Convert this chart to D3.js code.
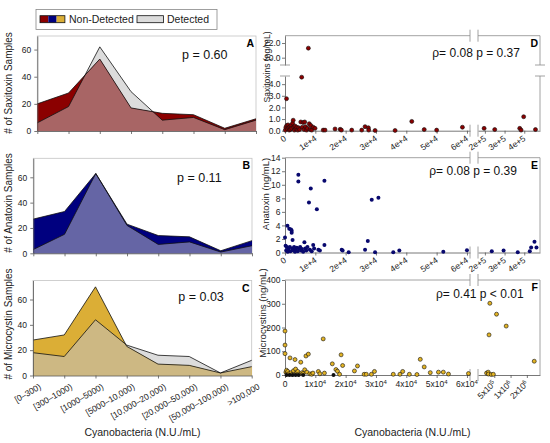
<!DOCTYPE html>
<html>
<head>
<meta charset="utf-8">
<script src="https://cdn.jsdelivr.net/npm/d3@7"></script>
<style>
  body { margin: 0; background: #fff; }
  svg { font-family: "Liberation Sans", Arial, sans-serif; }
</style>
</head>
<body>
<svg id="chart" width="550" height="443"></svg>
<script>
// left column: samples per cyanobacteria class
const categories = ["[0–300)", "[300–1000)", "[1000–5000)", "[5000–10,000)",
  "[10,000–20,000)", "[20,000–50,000)", "[50,000–100,000)", ">100,000"];
const saxNonDetected = [20, 28, 53, 17, 13, 12, 2, 9];
const saxDetected    = [6, 18, 62, 29, 8, 10, 1, 8];
const anaNonDetected = [27, 33, 63, 23, 14, 13, 2, 10];
const anaDetected    = [3, 15, 63, 22, 7, 9, 1, 6];
const micNonDetected = [28, 32, 70, 23, 9, 8, 2, 7];
const micDetected    = [18, 15, 44, 24, 16, 15, 2, 12];
const sampleTicks = [0, 20, 40, 60];

// right column: [cyanobacteria N.U./mL, toxin ng/mL]
const saxitoxinPoints = [
  [100, 0.05], [300, 0.3], [500, 2.75], [600, 0.45], [800, 0.15], [1000, 0.5], [1200, 0.25],
  [1400, 0.05], [1600, 0.35], [1800, 0.1], [2000, 0.45], [2200, 0.2], [2500, 0.65], [2700, 0.9],
  [2900, 0.3], [3100, 0.05], [3300, 0.4], [3600, 0.15], [3900, 0.3], [4200, 0.05], [4500, 0.25],
  [4800, 0.1], [5200, 0.75], [5500, 4.6], [5700, 0.3], [6000, 0.7], [6300, 0.1], [6500, 0.75],
  [6800, 0.35], [7100, 0.05], [7400, 0.2], [7700, 21.3], [8000, 0.6], [8300, 0.1], [8500, 0.45],
  [8800, 0.05], [9300, 0.3], [9900, 0.2], [12600, 0.05], [13200, 0.05], [16500, 0.15],
  [18200, 0.12], [18600, 0.05], [22000, 0.05], [25300, 0.05], [26400, 0.35], [27500, 0.25],
  [27600, 0.05], [29700, 0.02], [36300, 0.02], [41800, 0.8], [45900, 0.1], [50000, 0.05],
  [58500, 0.3], [196000, 0.2], [250000, 0.1], [377000, 0.2], [384000, 0.05], [397000, 1.2],
  [457000, 0.1]
];
const anatoxinPoints = [
  [0, 2.2], [200, 1.0], [400, 0.3], [600, 0.8], [800, 3.95], [900, 0.1], [1100, 0.5], [1400, 3.5],
  [1600, 0.8], [1800, 0.2], [2000, 3.4], [2200, 3.2], [2200, 2.9], [2400, 0.6], [2500, 1.85],
  [2800, 0.3], [3000, 0.8], [3300, 0.1], [3600, 0.5], [3900, 0.7], [4200, 0.2], [4400, 11.5],
  [4400, 10.5], [4700, 0.6], [5000, 0.8], [5300, 0.3], [5600, 0.5], [6000, 0.1], [6400, 1.5],
  [6700, 0.6], [7000, 0.3], [7400, 0.8], [7900, 7.4], [8200, 0.4], [8500, 9.45], [8800, 0.2],
  [9300, 1.1], [9600, 0.6], [10500, 6.4], [11000, 0.4], [11500, 0.3], [13000, 10.6], [13000, 1.1],
  [18700, 0.4], [19000, 0.3], [21000, 0.05], [26400, 0.4], [27300, 1.7], [28600, 7.8],
  [29700, 0.05], [30800, 8.1], [35700, 0.05], [37700, 0.3], [52200, 0.1], [60000, 0.35],
  [235000, 0.2], [295000, 0.3], [367000, 0.05], [428000, 0.2], [435000, 0.75], [452000, 1.6],
  [462000, 0.75]
];
const microcystinPoints = [
  [0, 185], [0, 126], [0, 90], [300, 12], [500, 20], [700, 8], [900, 15], [1200, 5], [1650, 72],
  [2000, 10], [2400, 3], [2800, 18], [3300, 65], [3500, 25], [3800, 8], [4200, 15], [4600, 4],
  [5200, 54], [5600, 10], [6000, 6], [6500, 22], [6900, 80], [7200, 12], [7700, 88], [8200, 5],
  [8800, 3], [9200, 8], [11000, 15], [11500, 5], [12600, 152], [13000, 8], [15600, 47],
  [16800, 23], [17300, 16], [18000, 3], [18500, 85], [19000, 40], [22900, 17], [23900, 38],
  [26100, 3], [26800, 3], [28500, 3], [29500, 15], [35700, 3], [37900, 3], [38800, 15],
  [41000, 3], [43500, 2], [44600, 66], [45900, 34], [47900, 10], [50600, 12], [52200, 12],
  [53900, 4], [60500, 6], [360000, 8], [386000, 12], [390000, 4], [400000, 169], [414000, 302],
  [440000, 2], [480000, 3], [550000, 256], [830000, 206], [2740000, 58]
];
const microcystinZeros = [[500, 0], [1500, 0], [2500, 0], [3500, 0], [4500, 0], [6000, 0], [16000, 0]];

const xTicksLeft = [0, 1e4, 2e4, 3e4, 4e4, 5e4, 6e4];
const xTicksRightLinear = [2e5, 3e5, 4e5];
const xTicksRightLog = [5e5, 1e6, 2e6];
const saxTicksLow = [0, 1, 2, 3, 4];
const saxTicksHigh = [20, 22];
const anaTicks = [0, 2, 4, 6, 8, 10, 12, 14];
const micTicks = [0, 100, 200, 300, 400];

const svg = d3.select("#chart");
const gray = "#dcdcdc";
const axisColor = "#555";

function styleAxis(g) {
  g.selectAll("path, line").attr("stroke", axisColor).attr("stroke-width", 0.8);
  g.selectAll("text").attr("fill", "#222").style("font-size", "8.5px");
}

function drawAreaPanel(cfg) {
  const w = 218.7, h = 95;
  const x = d3.scalePoint().domain(categories).range([cfg.left, cfg.left + w]);
  const y = d3.scaleLinear().domain([0, cfg.yMax]).range([cfg.top + h, cfg.top]);
  const g = svg.append("g");

  g.append("rect")
    .attr("x", cfg.left).attr("y", cfg.top).attr("width", w).attr("height", h)
    .attr("fill", "none").attr("stroke", "#c4c4c4").attr("stroke-width", 0.8);

  const area = (vals) => d3.area()
    .x((d, i) => x(categories[i]))
    .y0(y(0))
    .y1((d) => y(d))(vals);
  const line = (vals) => d3.line()
    .x((d, i) => x(categories[i]))
    .y((d) => y(d))(vals);

  g.append("clipPath").attr("id", cfg.id + "-clip")
    .append("path").attr("d", area(cfg.nonDetected));

  g.append("path").attr("d", area(cfg.detected)).attr("fill", gray);
  g.append("path").attr("d", area(cfg.nonDetected)).attr("fill", cfg.color);
  g.append("path").attr("d", area(cfg.detected)).attr("fill", cfg.overlap)
    .attr("clip-path", `url(#${cfg.id}-clip)`);

  g.append("path").attr("d", line(cfg.nonDetected))
    .attr("fill", "none").attr("stroke", "#111").attr("stroke-width", 0.8);
  g.append("path").attr("d", line(cfg.detected))
    .attr("fill", "none").attr("stroke", "#111").attr("stroke-width", 0.8);

  g.append("g")
    .attr("transform", `translate(${cfg.left},0)`)
    .call(d3.axisLeft(y).tickValues(sampleTicks).tickSize(3).tickSizeOuter(0))
    .call(styleAxis);

  const xAxis = g.append("g")
    .attr("transform", `translate(0,${cfg.top + h})`)
    .call(d3.axisBottom(x).tickSize(3).tickSizeOuter(0).tickFormat(cfg.showLabels ? null : ""))
    .call(styleAxis);
  if (cfg.showLabels) {
    xAxis.selectAll("text")
      .attr("text-anchor", "end")
      .attr("transform", "translate(3,4) rotate(-30)")
      .attr("dy", "0.5em");
  }

  g.append("text")
    .attr("transform", `translate(11.5,${cfg.titleY}) rotate(-90)`)
    .attr("text-anchor", "middle").style("font-size", "10px").attr("fill", "#222")
    .text(cfg.title);
  g.append("text").attr("x", cfg.pX).attr("y", cfg.pY)
    .style("font-size", "12.5px").attr("fill", "#111").text(cfg.pText);
  g.append("text").attr("x", cfg.left + w - 2).attr("y", cfg.top + 11)
    .attr("text-anchor", "end").style("font-size", "10.5px").style("font-weight", "bold")
    .text(cfg.letter);
}

function sciLabel(sel, v, style) {
  if (v === 0) { sel.text("0"); return; }
  const e = Math.floor(Math.log10(v));
  const m = Math.round(v / 10 ** e);
  if (style === "e") {
    sel.text(`${m}e+${e}`);
  } else {
    sel.append("tspan").text(`${m}x10`);
    sel.append("tspan").attr("dy", "-0.45em").style("font-size", "6px").text(e);
  }
}

function drawScatterPanel(cfg) {
  const left = 285, gapL = 470, gapR = 478, right = 540;
  const top = cfg.ySegs[cfg.ySegs.length - 1].range[1];
  const bottom = cfg.ySegs[0].range[0];
  const xl = d3.scaleLinear().domain([0, 6.1e4]).range([left, gapL]);
  const xr = cfg.logRight
    ? d3.scaleLog().domain([2.5e5, 3.5e6]).range([gapR, right])
    : d3.scaleLinear().domain([1.65e5, 4.8e5]).range([gapR, right]);
  const px = (v) => (v <= 6.1e4 ? xl(v) : xr(v));
  const yScales = cfg.ySegs.map((s) => d3.scaleLinear().domain(s.domain).range(s.range));
  const py = (v) => {
    const i = cfg.ySegs.findIndex((s) => v <= s.domain[1]);
    return yScales[i < 0 ? yScales.length - 1 : i](v);
  };
  const g = svg.append("g");
  const seg = (x1, y1, x2, y2) => g.append("line")
    .attr("x1", x1).attr("y1", y1).attr("x2", x2).attr("y2", y2)
    .attr("stroke", "#8a8a8a").attr("stroke-width", 0.8);

  // top border and right border, broken where the axes break
  seg(left, top, gapL, top);
  seg(gapR, top, right, top);
  cfg.ySegs.forEach((s) => seg(right, s.range[0], right, s.range[1]));

  // y axes
  cfg.ySegs.forEach((s, i) => {
    g.append("g").attr("transform", `translate(${left},0)`)
      .call(d3.axisLeft(yScales[i]).tickValues(s.ticks).tickSize(3).tickPadding(1.5).tickSizeOuter(0))
      .call(styleAxis);
  });

  // x axes
  [[xl, xTicksLeft], [xr, cfg.logRight ? xTicksRightLog : xTicksRightLinear]].forEach(([sc, ticks], k) => {
    g.append("g").attr("transform", `translate(0,${bottom})`)
      .call(d3.axisBottom(sc).tickValues(ticks).tickSize(3).tickSizeOuter(0).tickFormat(""))
      .call(styleAxis);
    ticks.forEach((t) => {
      const txt = g.append("text").attr("fill", "#222").style("font-size", "8.5px");
      if (cfg.logRight && k === 0) {
        txt.attr("x", sc(t)).attr("y", bottom + 12).attr("text-anchor", "middle");
      } else {
        const ang = cfg.logRight ? -45 : -35;
        txt.attr("text-anchor", "end")
          .attr("transform", `translate(${sc(t) + 2},${bottom + 9}) rotate(${ang})`);
      }
      sciLabel(txt, t, cfg.logRight ? "x" : "e");
    });
  });

  // break marks
  [gapL, gapR].forEach((xv) => {
    seg(xv, top - 6, xv, top + 6);
    seg(xv, bottom - 6, xv, bottom + 6);
  });
  for (let i = 1; i < cfg.ySegs.length; i++) {
    [cfg.ySegs[i - 1].range[1], cfg.ySegs[i].range[0]].forEach((yv) => {
      seg(left - 5, yv, left + 5, yv);
      seg(right - 5, yv, right + 5, yv);
    });
  }

  g.append("g").selectAll("circle")
    .data(cfg.points)
    .join("circle")
    .attr("cx", (d) => px(d[0]))
    .attr("cy", (d) => py(d[1]))
    .attr("r", 2)
    .attr("fill", cfg.fill)
    .attr("stroke", cfg.stroke || "none")
    .attr("stroke-width", 0.6);
  if (cfg.zeros) {
    g.append("g").selectAll("circle")
      .data(cfg.zeros)
      .join("circle")
      .attr("cx", (d) => px(d[0]))
      .attr("cy", (d) => py(d[1]))
      .attr("r", 2)
      .attr("fill", "#111");
  }

  g.append("text")
    .attr("transform", `translate(${cfg.titleX},${cfg.titleY}) rotate(-90)`)
    .attr("text-anchor", "middle").style("font-size", cfg.titleSize).attr("fill", "#222")
    .text(cfg.title);
  g.append("text").attr("x", cfg.rhoX).attr("y", cfg.rhoY)
    .style("font-size", "12px").attr("fill", "#111").text(cfg.rhoText);
  g.append("text").attr("x", right - 2).attr("y", top + 11)
    .attr("text-anchor", "end").style("font-size", "10.5px").style("font-weight", "bold")
    .text(cfg.letter);
}

drawAreaPanel({
  id: "sax", nonDetected: saxNonDetected, detected: saxDetected, color: "#8b0000",
  overlap: "#a86565", yMax: 70, left: 37.3, top: 36, showLabels: false,
  title: "# of Saxitoxin Samples", titleY: 83, pText: "p = 0.60", pX: 182, pY: 58.5, letter: "A"
});
drawAreaPanel({
  id: "ana", nonDetected: anaNonDetected, detected: anaDetected, color: "#00007f",
  overlap: "#6565a5", yMax: 75, left: 33.3, top: 158.3, showLabels: false,
  title: "# of Anatoxin Samples", titleY: 203, pText: "p = 0.11", pX: 177, pY: 181.7, letter: "B"
});
drawAreaPanel({
  id: "mic", nonDetected: micNonDetected, detected: micDetected, color: "#dbae36",
  overlap: "#cdb883", yMax: 75, left: 33, top: 280.5, showLabels: true,
  title: "# of Microcystin Samples", titleY: 324, pText: "p = 0.03", pX: 178.3, pY: 300.7, letter: "C"
});

drawScatterPanel({
  points: saxitoxinPoints, fill: "#8b0000", stroke: "#111",
  ySegs: [
    { domain: [0, 4.7], range: [130.7, 76], ticks: saxTicksLow },
    { domain: [19, 23], range: [65, 35.7], ticks: saxTicksHigh }
  ],
  title: "Saxitoxins (ng/mL)", titleX: 269.5, titleY: 67, titleSize: "8.6px",
  rhoText: "ρ= 0.08 p = 0.37", rhoX: 432.3, rhoY: 57.3, letter: "D"
});
drawScatterPanel({
  points: anatoxinPoints, fill: "#08086e",
  ySegs: [{ domain: [0, 14], range: [252.5, 157.7], ticks: anaTicks }],
  title: "Anatoxin (ng/mL)", titleX: 268.5, titleY: 194, titleSize: "9.5px",
  rhoText: "ρ= 0.08 p = 0.39", rhoX: 429.3, rhoY: 175, letter: "E"
});
drawScatterPanel({
  points: microcystinPoints, zeros: microcystinZeros, fill: "#e2b324", stroke: "#111", logRight: true,
  ySegs: [{ domain: [0, 400], range: [375, 280], ticks: micTicks }],
  title: "Microcystins (ng/mL)", titleX: 266, titleY: 313, titleSize: "9.7px",
  rhoText: "ρ= 0.41 p < 0.01", rhoX: 436, rhoY: 298.3, letter: "F"
});

// legend
const legend = svg.append("g");
legend.append("rect").attr("x", 36).attr("y", 9.5).attr("width", 181).attr("height", 20)
  .attr("fill", "#fff").attr("stroke", "#888").attr("stroke-width", 0.8);
["#8b0000", "#00007f", "#dbae36"].forEach((c, i) => {
  legend.append("rect").attr("x", 40 + i * 8.3).attr("y", 15.7).attr("width", 8.3).attr("height", 7)
    .attr("fill", c);
});
legend.append("rect").attr("x", 40).attr("y", 15.7).attr("width", 24.9).attr("height", 7)
  .attr("fill", "none").attr("stroke", "#111").attr("stroke-width", 0.8);
legend.append("text").attr("x", 69).attr("y", 22.7).style("font-size", "10.5px").attr("fill", "#222")
  .text("Non-Detected");
legend.append("rect").attr("x", 137).attr("y", 15.7).attr("width", 26.5).attr("height", 7)
  .attr("fill", gray).attr("stroke", "#111").attr("stroke-width", 0.8);
legend.append("text").attr("x", 167).attr("y", 22.7).style("font-size", "10.5px").attr("fill", "#222")
  .text("Detected");

// shared x titles
svg.append("text").attr("x", 142.5).attr("y", 435.5).attr("text-anchor", "middle")
  .style("font-size", "10.5px").attr("fill", "#222").text("Cyanobacteria (N.U./mL)");
svg.append("text").attr("x", 412.5).attr("y", 435.5).attr("text-anchor", "middle")
  .style("font-size", "10.5px").attr("fill", "#222").text("Cyanobacteria (N.U./mL)");
</script>
</body>
</html>
